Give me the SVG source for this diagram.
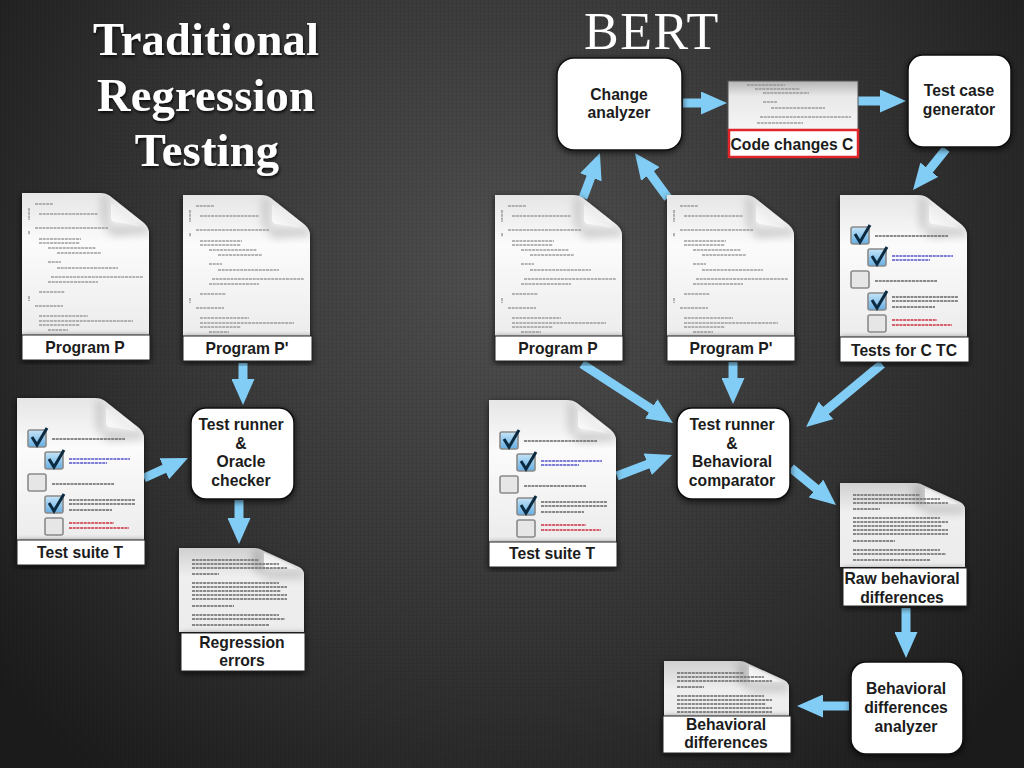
<svg xmlns="http://www.w3.org/2000/svg" width="1024" height="768" viewBox="0 0 1024 768">
<style>
.title{font-family:"Liberation Serif",serif;font-weight:bold;font-size:46.5px;letter-spacing:.2px;fill:#fff;text-anchor:middle;filter:url(#ts)}
.bert{font-family:"Liberation Serif",serif;font-size:52px;letter-spacing:1.5px;fill:#fff;text-anchor:middle}
.lbl{font-family:"Liberation Sans",Arial,sans-serif;font-weight:bold;font-size:15.7px;fill:#1c1c1c;text-anchor:middle}
.box{fill:#fff;stroke:#111;stroke-width:1.5;filter:url(#sh)}
.cap{fill:#fff;stroke:#222;stroke-width:1;filter:url(#sh)}
.arrow{stroke:#82cdf5;stroke-width:9;fill:none;marker-end:url(#head)}
.cl{fill:none;stroke:#8f8f8f;stroke-width:1.5;stroke-dasharray:3 .7;opacity:.85}
.tl{fill:none;stroke:#777;stroke-width:2;stroke-dasharray:3 .7;opacity:.85}
.cb{fill:url(#cbg);stroke:#8a8a8a;stroke-width:1.6}
.cbu{fill:#e6e6e6;stroke:#8a8a8a;stroke-width:1.6}
.ck{fill:none;stroke:#0c2a40;stroke-width:3}
</style>
<defs>
<radialGradient id="bg" gradientUnits="userSpaceOnUse" cx="512" cy="270" r="660">
<stop offset="0" stop-color="#505050"/><stop offset=".55" stop-color="#353535"/><stop offset="1" stop-color="#1b1b1b"/>
</radialGradient>
<pattern id="st" width="4" height="4" patternUnits="userSpaceOnUse"><rect width="1" height="4" fill="#000" opacity=".05"/><rect y="3" width="4" height="1" fill="#000" opacity=".03"/></pattern>
<linearGradient id="pg" x1="0" y1="0" x2="0" y2="1"><stop offset="0" stop-color="#e6e6e6"/><stop offset=".35" stop-color="#fbfbfb"/><stop offset="1" stop-color="#ececec"/></linearGradient>
<linearGradient id="tg" x1="0" y1="0" x2="0" y2="1"><stop offset="0" stop-color="#d0d0d0"/><stop offset=".35" stop-color="#efefef"/><stop offset="1" stop-color="#ececec"/></linearGradient>
<linearGradient id="cbg" x1="0" y1="0" x2="0" y2="1"><stop offset="0" stop-color="#c4e4f8"/><stop offset="1" stop-color="#66aee2"/></linearGradient>
<linearGradient id="fold" x1="0" y1="1" x2="1" y2="0"><stop offset="0" stop-color="#ffffff"/><stop offset="1" stop-color="#dcdcdc"/></linearGradient>
<linearGradient id="cc" x1="0" y1="0" x2="0" y2="1"><stop offset="0" stop-color="#b4b4b4"/><stop offset=".3" stop-color="#e8e8e8"/><stop offset="1" stop-color="#f6f6f6"/></linearGradient>
<filter id="sh" x="-20%" y="-20%" width="140%" height="140%"><feDropShadow dx="0" dy="2" stdDeviation="3" flood-color="#000" flood-opacity=".7"/></filter>
<filter id="ts" x="-10%" y="-20%" width="120%" height="150%"><feDropShadow dx="1" dy="2" stdDeviation="1.5" flood-color="#000" flood-opacity=".8"/></filter>
<filter id="bl" x="-5%" y="-5%" width="110%" height="110%"><feGaussianBlur stdDeviation=".55"/></filter>
<filter id="bl3" x="-30%" y="-30%" width="160%" height="160%"><feGaussianBlur stdDeviation="4"/></filter>
<marker id="head" viewBox="0 0 26 23" refX="8" refY="11.5" markerWidth="26" markerHeight="23" markerUnits="userSpaceOnUse" orient="auto"><path d="M0 0L26 11.5L0 23Z" fill="#82cdf5"/></marker>
<clipPath id="pc"><path d="M0 0H78Q84 0 88 3L122 30Q127 35 127 40V142H0Z"/></clipPath>
<clipPath id="tc"><path d="M0 0H76Q80 0 85 3L120 19Q125 22 125 26V84H0Z"/></clipPath>
<g id="page">
<path d="M0 0H78Q84 0 88 3L122 30Q127 35 127 40V142H0Z" fill="url(#pg)" filter="url(#sh)"/>
<g clip-path="url(#pc)"><path d="M86 6V34H127V40L90 42L80 30V0Z" fill="#999" opacity=".55" filter="url(#bl3)"/></g>
<path d="M89 10V24Q89 29 94 29L118 33Q104 20 89 10Z" fill="url(#fold)"/>
</g>
<g id="codedoc">
<use href="#page"/>
<path class="cl" filter="url(#bl)" d="M13 11H31M17 21H76M13 35H86M17 46H59M17 50H58M26 55H74M35 60H79M26 69H39M35 75H96M29 84H121M26 89H76M17 99H43M13 113H41M17 123H66M17 128H111M17 132H58M26 137H46M7 15V27M7 38V42M7 103V108"/>
</g>
<g id="testdoc">
<use href="#page"/>
<rect class="cb" x="11" y="32" width="18" height="17" rx="2"/><path class="ck" d="M15 39L20 47L30 30"/>
<rect class="cb" x="28" y="54" width="18" height="17" rx="2"/><path class="ck" d="M32 61L37 69L47 52"/>
<rect class="cbu" x="11" y="76" width="18" height="17" rx="2"/>
<rect class="cb" x="28" y="98" width="18" height="17" rx="2"/><path class="ck" d="M32 105L37 113L47 96"/>
<rect class="cbu" x="28" y="120" width="18" height="17" rx="2"/>
<g fill="none" stroke-width="1.5" stroke-dasharray="3 .7" filter="url(#bl)">
<path stroke="#666" d="M35 41H108M35 86H97M52 102H118M52 106H118M52 112H95"/>
<path stroke="#5555cc" d="M52 61H113M52 65H90"/>
<path stroke="#cc3344" d="M52 125H97M52 130H112"/>
</g>
</g>
<g id="textdoc">
<path d="M0 0H76Q80 0 85 3L120 19Q125 22 125 26V84H0Z" fill="url(#tg)" filter="url(#sh)"/>
<g clip-path="url(#tc)"><path d="M84 4V24H125V30L88 30L74 20V0Z" fill="#888" opacity=".5" filter="url(#bl3)"/></g>
<path d="M85 5V16Q85 20 90 20L118 21Q100 11 85 5Z" fill="url(#fold)"/>
<path class="tl" filter="url(#bl)" d="M13 12H80M13 16H100M13 20H108M13 26H40M13 35H100M13 39H108M13 43H102M13 47H108M13 51H108M13 58H55M13 67H100M13 71H106M13 77H90"/>
</g>
</defs>

<rect width="1024" height="768" fill="url(#bg)"/>
<rect width="1024" height="768" fill="url(#st)"/>

<g id="titles">
<text class="title" x="206" y="55">Traditional</text>
<text class="title" x="206" y="111">Regression</text>
<text class="title" x="207" y="166">Testing</text>
<text class="bert" x="652" y="49">BERT</text>
</g>

<g id="connectors">
<line class="arrow" x1="243" y1="363" x2="243" y2="387"/>
<line class="arrow" x1="144" y1="478" x2="171.6" y2="465.5"/>
<line class="arrow" x1="239" y1="500" x2="239" y2="526"/>
<line class="arrow" x1="683" y1="103" x2="709" y2="103"/>
<line class="arrow" x1="858" y1="101" x2="888" y2="101"/>
<line class="arrow" x1="946" y1="149" x2="924.3" y2="176"/>
<line class="arrow" x1="583" y1="198" x2="593.6" y2="169.8"/>
<line class="arrow" x1="668" y1="198" x2="645.6" y2="167.5"/>
<line class="arrow" x1="582" y1="364" x2="657.9" y2="413.2"/>
<line class="arrow" x1="733" y1="362" x2="733" y2="386"/>
<line class="arrow" x1="882" y1="364" x2="819.9" y2="415.5"/>
<line class="arrow" x1="617" y1="476" x2="655.2" y2="461.4"/>
<line class="arrow" x1="791" y1="468" x2="822.1" y2="493.6"/>
<line class="arrow" x1="906" y1="608" x2="906" y2="640"/>
<line class="arrow" x1="849" y1="706" x2="815" y2="706"/>
</g>

<g id="t-program-p"><use href="#codedoc" x="22" y="193"/><rect class="cap" x="22" y="335" width="128" height="25"/><text class="lbl" x="85" y="353">Program P</text></g>
<g id="t-program-p2"><use href="#codedoc" x="183" y="195"/><rect class="cap" x="183" y="336" width="129" height="25"/><text class="lbl" x="247" y="354">Program P'</text></g>
<g id="t-test-suite"><use href="#testdoc" x="17" y="398"/><rect class="cap" x="17" y="540" width="128" height="25"/><text class="lbl" x="80" y="558">Test suite T</text></g>
<g id="t-runner"><rect class="box" x="191" y="408" width="103" height="91" rx="15"/><text class="lbl" x="241" y="430">Test runner</text><text class="lbl" x="241" y="449">&amp;</text><text class="lbl" x="241" y="467">Oracle</text><text class="lbl" x="241" y="486">checker</text></g>
<g id="t-regression"><use href="#textdoc" x="179" y="548"/><rect class="cap" x="181" y="633" width="124" height="38"/><text class="lbl" x="242" y="648">Regression</text><text class="lbl" x="242" y="666">errors</text></g>

<g id="b-analyzer"><rect class="box" x="557" y="58" width="125" height="92" rx="17"/><text class="lbl" x="619" y="100">Change</text><text class="lbl" x="619" y="118">analyzer</text></g>
<g id="b-changes"><rect x="728" y="81" width="130" height="50" fill="url(#cc)" stroke="#555" stroke-width="1"/><path class="cl" filter="url(#bl)" d="M747 85H785M755 89H800M763 93H809M763 102H777M771 108H825M760 117H851M757 123H803"/><rect x="729" y="130" width="129" height="27" fill="#fff" stroke="#e0262a" stroke-width="2.5"/><text class="lbl" x="792" y="150">Code changes C</text></g>
<g id="b-generator"><rect class="box" x="908" y="55" width="103" height="92" rx="15"/><text class="lbl" x="959" y="96">Test case</text><text class="lbl" x="959" y="115">generator</text></g>
<g id="b-program-p"><use href="#codedoc" x="495" y="195"/><rect class="cap" x="495" y="336" width="128" height="25"/><text class="lbl" x="558" y="354">Program P</text></g>
<g id="b-program-p2"><use href="#codedoc" x="667" y="195"/><rect class="cap" x="667" y="336" width="128" height="25"/><text class="lbl" x="731" y="354">Program P'</text></g>
<g id="b-tests-c"><use href="#testdoc" x="840" y="195"/><rect class="cap" x="840" y="337" width="129" height="25"/><text class="lbl" x="904" y="356">Tests for C TC</text></g>
<g id="b-test-suite"><use href="#testdoc" x="489" y="400"/><rect class="cap" x="489" y="542" width="128" height="25"/><text class="lbl" x="552" y="559">Test suite T</text></g>
<g id="b-runner"><rect class="box" x="677" y="408" width="113" height="91" rx="15"/><text class="lbl" x="732" y="430">Test runner</text><text class="lbl" x="732" y="449">&amp;</text><text class="lbl" x="732" y="467">Behavioral</text><text class="lbl" x="732" y="486">comparator</text></g>
<g id="b-raw"><use href="#textdoc" x="840" y="483"/><rect class="cap" x="843" y="568" width="124" height="38"/><text class="lbl" x="902" y="584">Raw behavioral</text><text class="lbl" x="902" y="603">differences</text></g>
<g id="b-diff-analyzer"><rect class="box" x="851" y="662" width="112" height="92" rx="15"/><text class="lbl" x="906" y="694">Behavioral</text><text class="lbl" x="906" y="713">differences</text><text class="lbl" x="906" y="732">analyzer</text></g>
<g id="b-diffs"><use href="#textdoc" x="664" y="661"/><rect class="cap" x="663" y="716" width="128" height="37"/><text class="lbl" x="726" y="730">Behavioral</text><text class="lbl" x="726" y="748">differences</text></g>
</svg>
